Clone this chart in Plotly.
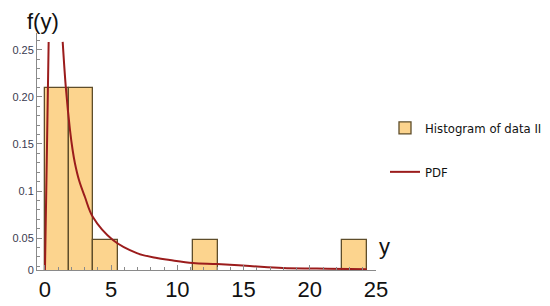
import plotly.graph_objects as go

# Histogram bins (left edge, width) and heights
bin_left = [0.0, 1.82, 3.64, 11.15, 22.45]
bin_width = [1.82, 1.82, 1.86, 1.9, 1.85]
bin_height = [0.21, 0.21, 0.048, 0.048, 0.048]

# PDF curve points (rising part, then falling part)
pdf_x = [0.0, 0.15, 0.28, None, 1.34, 1.58, 1.89, 2.09, 2.26, 2.57, 3.02, 3.62,
         5.13, 6.94, 8.45, 9.43, 11.17, 12.98, 15.47, 17.96, 20.53, 23.02, 24.3]
pdf_y = [0.016, 0.1436, 0.2585, None, 0.2585, 0.2096, 0.165, 0.1436, 0.1298, 0.1117,
         0.0936, 0.0723, 0.0479, 0.034, 0.0287, 0.0266, 0.0234, 0.0223, 0.0202,
         0.0181, 0.0176, 0.017, 0.0167]

x_ticks = [0, 5, 10, 15, 20, 25]
y_tickvals = [0.016, 0.05, 0.1, 0.15, 0.2, 0.25]
y_ticktext = ["0", "0.05", "0.1", "0.15", "0.20", "0.25"]

# page offset (browser body margin) and plot-area geometry in figure pixels
W, H = 542, 298
L, R, T, B = 29, 174, 25, 36
PW, PH = W - L - R, H - T - B


def px(xp):
    return (xp - 8 - L) / PW


def py(yp):
    return (H - B - (yp - 8)) / PH


fig = go.Figure()
fig.add_trace(go.Bar(
    x=bin_left, y=bin_height, width=bin_width, offset=0,
    marker=dict(color="#FCD48E", line=dict(color="#5e4d2a", width=1.3)),
    name="Histogram of data II", legendgroup="h",
))
fig.add_trace(go.Scatter(
    x=pdf_x, y=pdf_y, mode="lines", line=dict(color="#9b1c1c", width=2, shape="spline"),
    connectgaps=False, name="PDF", legendgroup="p",
))

fig.update_layout(
    width=W, height=H,
    margin=dict(l=L, r=R, t=T, b=B, autoexpand=False),
    paper_bgcolor="white", plot_bgcolor="white",
    font=dict(family="Liberation Sans, Arial, sans-serif"),
    bargap=0,
    showlegend=True,
    legend=dict(
        x=px(385), y=py(113), xanchor="left", yanchor="top",
        traceorder="grouped", tracegroupgap=24,
        font=dict(family="DejaVu Sans Condensed, Liberation Sans Narrow, sans-serif", size=13, color="#111"),
        bgcolor="rgba(0,0,0,0)",
    ),
    xaxis=dict(
        range=[-0.6, 25.0], tickmode="array", tickvals=x_ticks,
        showgrid=False, zeroline=False, showline=True, linecolor="#8a8a8a", linewidth=1,
        ticks="inside", ticklen=5, tickcolor="#8a8a8a",
        minor=dict(dtick=1, tick0=0, ticks="inside", ticklen=3, tickcolor="#8a8a8a"),
        tickfont=dict(size=22, color="#111"), ticklabelstandoff=0, automargin=False,
    ),
    yaxis=dict(
        range=[0.016, 0.268], tickmode="array", tickvals=y_tickvals, ticktext=y_ticktext,
        showgrid=False, zeroline=False, showline=True, linecolor="#8a8a8a", linewidth=1,
        ticks="inside", ticklen=5, tickcolor="#8a8a8a",
        minor=dict(dtick=0.01, tick0=0, ticks="inside", ticklen=3, tickcolor="#8a8a8a"),
        tickfont=dict(size=11, color="#3a3a50"), automargin=False,
    ),
    annotations=[
        dict(text="f(y)", xref="paper", yref="paper", x=px(43), y=py(22),
             showarrow=False, font=dict(size=22, color="#111"), xanchor="center", yanchor="middle"),
        dict(text="y", xref="paper", yref="paper", x=px(384), y=py(246),
             showarrow=False, font=dict(size=22, color="#111"), xanchor="center", yanchor="middle"),
    ],
)

fig.write_html("out.html")
